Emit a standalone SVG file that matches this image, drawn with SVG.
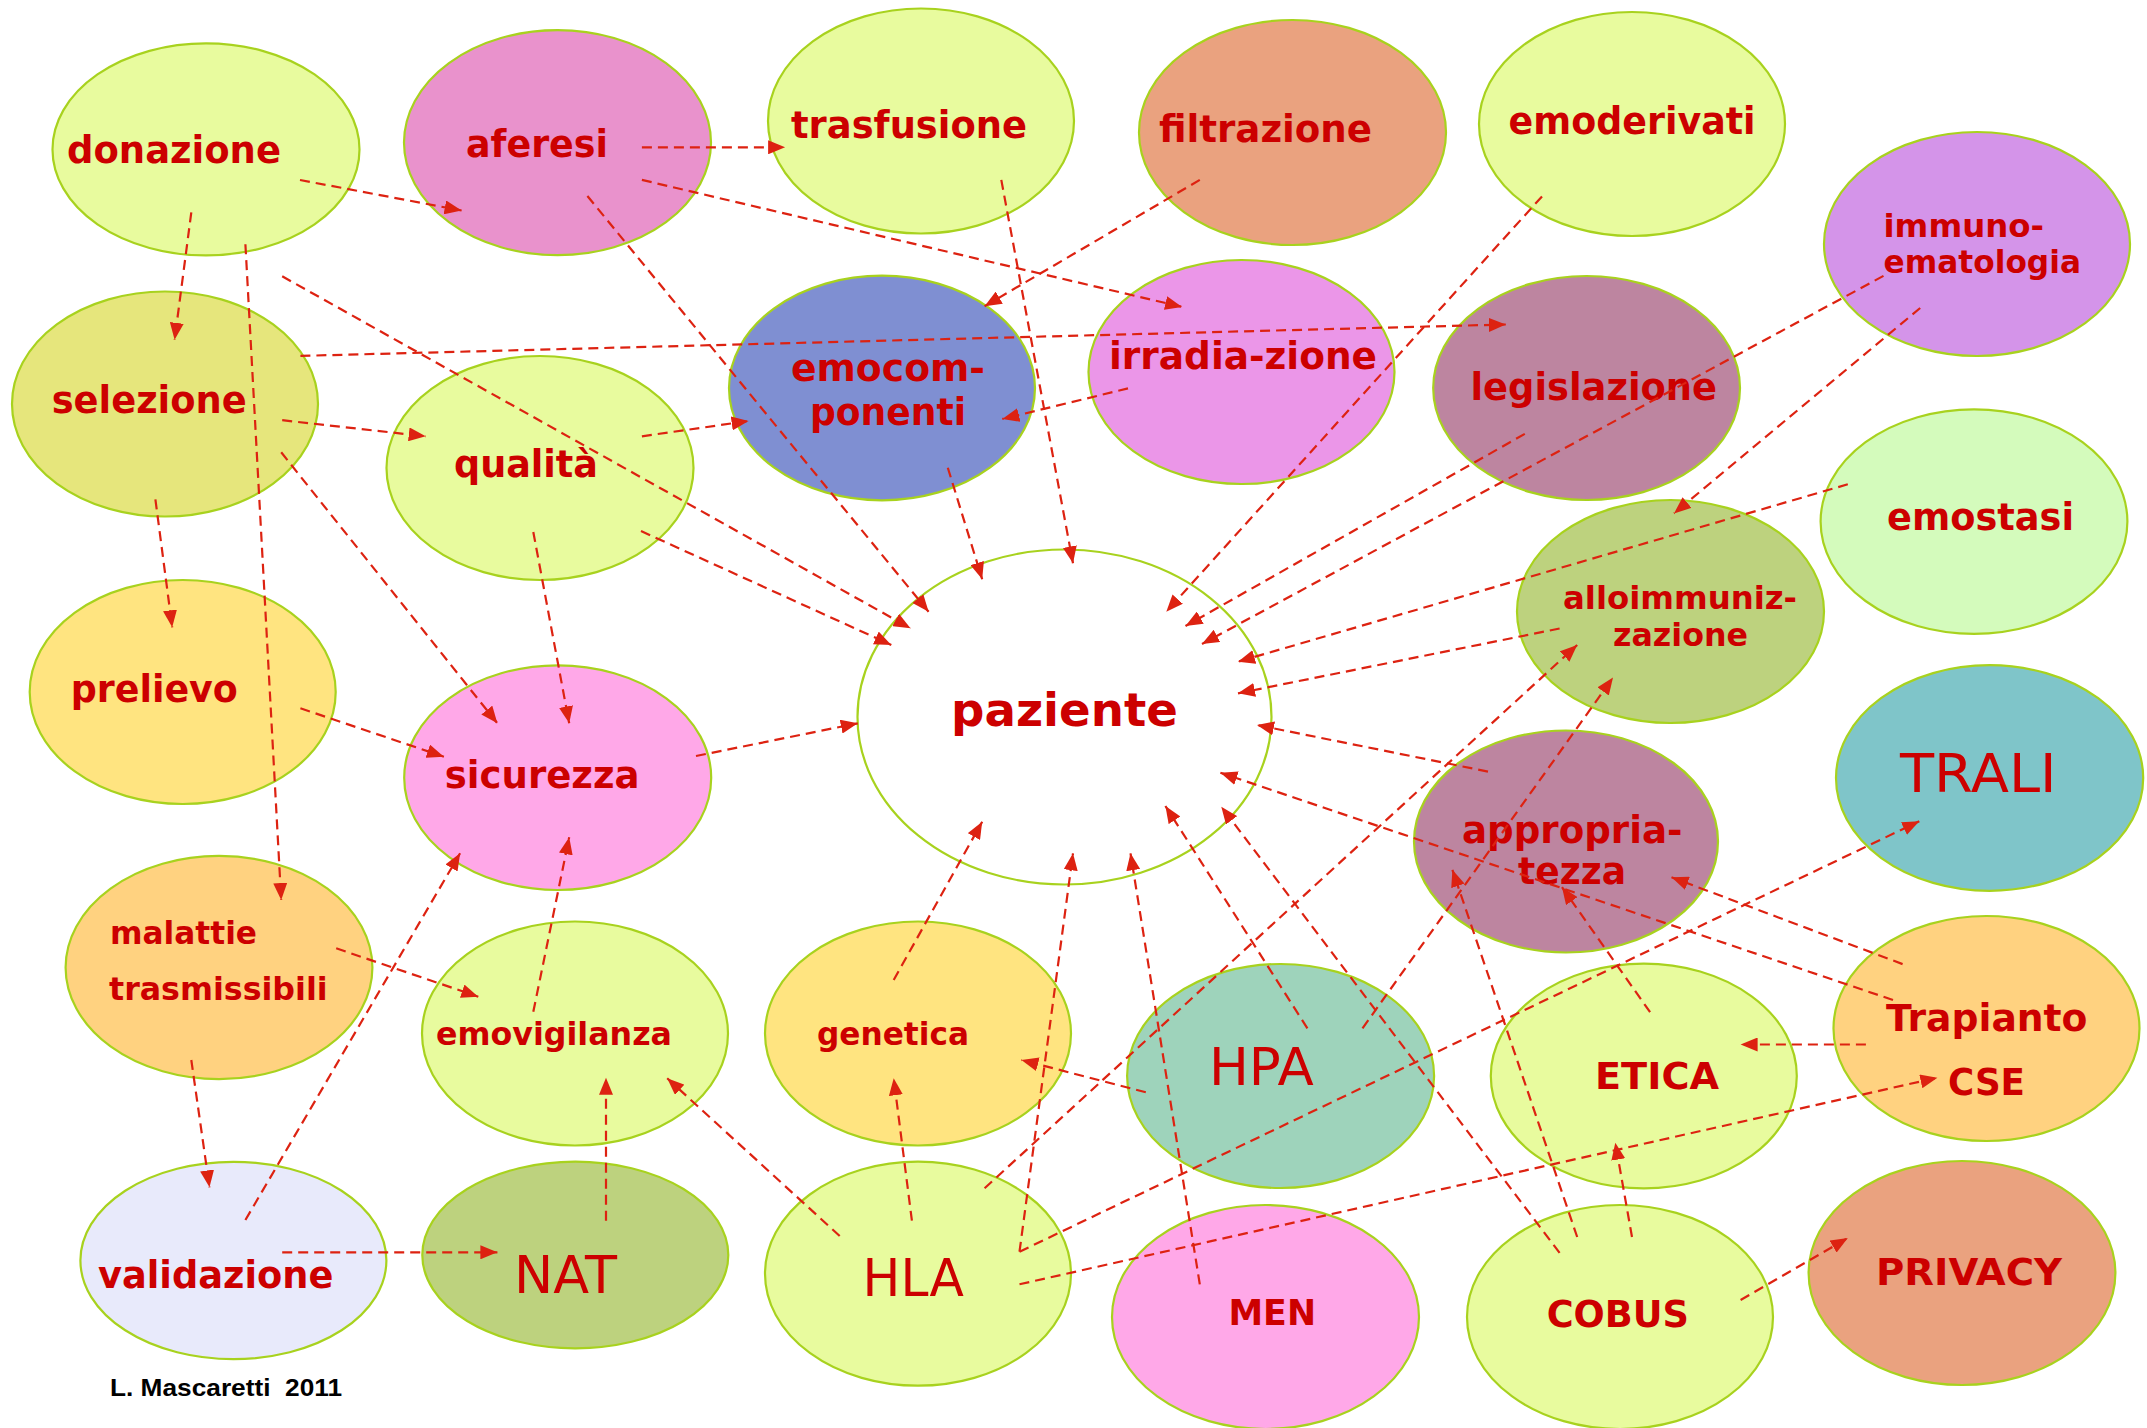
<svg xmlns="http://www.w3.org/2000/svg" width="2147" height="1428" viewBox="0 0 2147 1428">
<style>
.n{stroke:#A8D21E;stroke-width:2.2}
.t{font-family:"DejaVu Sans","Liberation Sans",sans-serif;font-weight:bold;fill:#CC0000}
.r{font-family:"DejaVu Sans","Liberation Sans",sans-serif;font-weight:normal;fill:#CC0000}
.c line{stroke:#DD2211;stroke-width:2.2;stroke-dasharray:10 6;fill:none;marker-end:url(#ah)}
.lg{fill:#E8FB9E}
</style>
<defs>
<marker id="ah" markerUnits="userSpaceOnUse" markerWidth="18" markerHeight="14" refX="17" refY="7" orient="auto">
<path d="M0,0 L17,7 L0,14 z" fill="#DD2211"/>
</marker>
</defs>
<rect width="2147" height="1428" fill="#FFFFFF"/>
<g id="donazione"><ellipse class="n lg" cx="206" cy="149.4" rx="153.5" ry="106"/><text class="t" x="67" y="162.6" font-size="37" textLength="214" lengthAdjust="spacingAndGlyphs">donazione</text></g>
<g id="aferesi"><ellipse class="n" fill="#E992CC" cx="557.5" cy="142.6" rx="153.5" ry="112.5"/><text class="t" x="466" y="157" font-size="37" textLength="142" lengthAdjust="spacingAndGlyphs">aferesi</text></g>
<g id="trasfusione"><ellipse class="n lg" cx="921" cy="121" rx="153" ry="112.5"/><text class="t" x="791" y="137.8" font-size="37" textLength="236" lengthAdjust="spacingAndGlyphs">trasfusione</text></g>
<g id="filtrazione"><ellipse class="n" fill="#EAA27F" cx="1292.5" cy="132.5" rx="153.5" ry="112.5"/><text class="t" x="1159" y="141.6" font-size="37" textLength="213" lengthAdjust="spacingAndGlyphs">filtrazione</text></g>
<g id="emoderivati"><ellipse class="n lg" cx="1632" cy="124" rx="153" ry="112"/><text class="t" x="1508.6" y="134" font-size="37" textLength="247" lengthAdjust="spacingAndGlyphs">emoderivati</text></g>
<g id="immunoematologia"><ellipse class="n" fill="#D494E9" cx="1977" cy="244" rx="153" ry="112"/><text class="t" x="1883.5" y="236.6" font-size="32" textLength="160.5" lengthAdjust="spacingAndGlyphs">immuno-</text><text class="t" x="1883.5" y="273" font-size="32" textLength="197.5" lengthAdjust="spacingAndGlyphs">ematologia</text></g>
<g id="selezione"><ellipse class="n" fill="#E6E67C" cx="165" cy="404" rx="153" ry="112.5"/><text class="t" x="51.7" y="413" font-size="37" textLength="195" lengthAdjust="spacingAndGlyphs">selezione</text></g>
<g id="qualita"><ellipse class="n lg" cx="540" cy="468" rx="153.5" ry="112"/><text class="t" x="454" y="476.5" font-size="37" textLength="144" lengthAdjust="spacingAndGlyphs">qualità</text></g>
<g id="emocomponenti"><ellipse class="n" fill="#7F8FD2" cx="882" cy="388" rx="153" ry="112.3"/><text class="t" x="791" y="381" font-size="37" textLength="194" lengthAdjust="spacingAndGlyphs">emocom-</text><text class="t" x="810" y="425" font-size="37" textLength="156" lengthAdjust="spacingAndGlyphs">ponenti</text></g>
<g id="irradiazione"><ellipse class="n" fill="#EB96E8" cx="1241.5" cy="372" rx="153" ry="112"/><text class="t" x="1109" y="369" font-size="37" textLength="268" lengthAdjust="spacingAndGlyphs">irradia-zione</text></g>
<g id="legislazione"><ellipse class="n" fill="#BD85A0" cx="1586.6" cy="388" rx="153.4" ry="112"/><text class="t" x="1470.5" y="399.5" font-size="37" textLength="246.5" lengthAdjust="spacingAndGlyphs">legislazione</text></g>
<g id="emostasi"><ellipse class="n" fill="#D4FBBC" cx="1974" cy="521.6" rx="153.4" ry="112.3"/><text class="t" x="1887" y="530" font-size="37" textLength="187" lengthAdjust="spacingAndGlyphs">emostasi</text></g>
<g id="alloimmunizzazione"><ellipse class="n" fill="#BDD27E" cx="1670.5" cy="611.5" rx="153.5" ry="111.5"/><text class="t" x="1563" y="609" font-size="32" textLength="234" lengthAdjust="spacingAndGlyphs">alloimmuniz-</text><text class="t" x="1613" y="646" font-size="32" textLength="135" lengthAdjust="spacingAndGlyphs">zazione</text></g>
<g id="prelievo"><ellipse class="n" fill="#FFE480" cx="182.7" cy="692" rx="153" ry="112"/><text class="t" x="70.8" y="701.7" font-size="37" textLength="167" lengthAdjust="spacingAndGlyphs">prelievo</text></g>
<g id="sicurezza"><ellipse class="n" fill="#FFA8E8" cx="557.7" cy="777.7" rx="153.5" ry="112.3"/><text class="t" x="444.8" y="788.3" font-size="37" textLength="194.7" lengthAdjust="spacingAndGlyphs">sicurezza</text></g>
<g id="paziente"><ellipse class="n" fill="#FFFFFF" cx="1064.5" cy="717" rx="207" ry="167.5"/><text class="t" x="951" y="725.7" font-size="47" textLength="227" lengthAdjust="spacingAndGlyphs">paziente</text></g>
<g id="appropriatezza"><ellipse class="n" fill="#BD85A0" cx="1566" cy="841.5" rx="152" ry="111"/><text class="t" x="1462" y="842.5" font-size="37" textLength="220.5" lengthAdjust="spacingAndGlyphs">appropria-</text><text class="t" x="1518" y="884" font-size="37" textLength="108" lengthAdjust="spacingAndGlyphs">tezza</text></g>
<g id="TRALI"><ellipse class="n" fill="#7FC5C9" cx="1989.6" cy="778" rx="153.6" ry="112.8"/><text class="r" x="1900" y="792.4" font-size="54" textLength="156.5" lengthAdjust="spacingAndGlyphs">TRALI</text></g>
<g id="malattie"><ellipse class="n" fill="#FFD280" cx="219" cy="967.5" rx="153.4" ry="111.6"/><text class="t" x="110" y="944.3" font-size="32" textLength="147" lengthAdjust="spacingAndGlyphs">malattie</text><text class="t" x="109" y="1000" font-size="32" textLength="218.6" lengthAdjust="spacingAndGlyphs">trasmissibili</text></g>
<g id="emovigilanza"><ellipse class="n lg" cx="575" cy="1033.5" rx="153" ry="112"/><text class="t" x="436" y="1045" font-size="32" textLength="236" lengthAdjust="spacingAndGlyphs">emovigilanza</text></g>
<g id="genetica"><ellipse class="n" fill="#FFE480" cx="918" cy="1033.5" rx="153" ry="112"/><text class="t" x="817" y="1045" font-size="32" textLength="152" lengthAdjust="spacingAndGlyphs">genetica</text></g>
<g id="HPA"><ellipse class="n" fill="#9ED3BB" cx="1280.6" cy="1076" rx="153.5" ry="112"/><text class="r" x="1209" y="1085" font-size="52" textLength="104.7" lengthAdjust="spacingAndGlyphs">HPA</text></g>
<g id="ETICA"><ellipse class="n lg" cx="1643.8" cy="1076" rx="153" ry="112.4"/><text class="t" x="1595" y="1089" font-size="37" textLength="124" lengthAdjust="spacingAndGlyphs">ETICA</text></g>
<g id="TrapiantoCSE"><ellipse class="n" fill="#FFD280" cx="1986.5" cy="1028.5" rx="153" ry="112.5"/><text class="t" x="1886" y="1031" font-size="37" textLength="201.5" lengthAdjust="spacingAndGlyphs">Trapianto</text><text class="t" x="1948" y="1095" font-size="37" textLength="77" lengthAdjust="spacingAndGlyphs">CSE</text></g>
<g id="validazione"><ellipse class="n" fill="#E8EAFB" cx="233.4" cy="1260.5" rx="153" ry="98.7"/><text class="t" x="98" y="1287.7" font-size="37" textLength="235.4" lengthAdjust="spacingAndGlyphs">validazione</text></g>
<g id="NAT"><ellipse class="n" fill="#BDD27E" cx="575.3" cy="1255" rx="153" ry="93.3"/><text class="r" x="514" y="1293" font-size="52" textLength="103" lengthAdjust="spacingAndGlyphs">NAT</text></g>
<g id="HLA"><ellipse class="n lg" cx="918" cy="1273.7" rx="153" ry="112"/><text class="r" x="862.6" y="1296" font-size="52" textLength="101.4" lengthAdjust="spacingAndGlyphs">HLA</text></g>
<g id="MEN"><ellipse class="n" fill="#FFA8E8" cx="1265.5" cy="1317" rx="153.5" ry="112"/><text class="t" x="1228.5" y="1325" font-size="36" textLength="87.5" lengthAdjust="spacingAndGlyphs">MEN</text></g>
<g id="COBUS"><ellipse class="n lg" cx="1620" cy="1317" rx="153" ry="112"/><text class="t" x="1546.7" y="1327" font-size="37" textLength="142.3" lengthAdjust="spacingAndGlyphs">COBUS</text></g>
<g id="PRIVACY"><ellipse class="n" fill="#EAA27F" cx="1962" cy="1273" rx="153.4" ry="112"/><text class="t" x="1876" y="1285" font-size="37" textLength="186" lengthAdjust="spacingAndGlyphs">PRIVACY</text></g>
<g id="credit"><text x="110" y="1395.7" font-family="'Liberation Sans',Arial,sans-serif" font-weight="bold" font-size="24" fill="#000000" xml:space="preserve" textLength="232" lengthAdjust="spacingAndGlyphs">L. Mascaretti  2011</text></g>
<g id="connectors" class="c">
<line x1="300" y1="180" x2="461.6" y2="210.5"/>
<line x1="191.3" y1="212.4" x2="174.6" y2="339.8"/>
<line x1="245.4" y1="244.2" x2="281.2" y2="900"/>
<line x1="282.2" y1="276.3" x2="910.5" y2="628.3"/>
<line x1="641.9" y1="147.3" x2="785.1" y2="147.3"/>
<line x1="641.9" y1="179.9" x2="1182.1" y2="306.9"/>
<line x1="587.4" y1="196" x2="928.6" y2="611.7"/>
<line x1="300.4" y1="355.9" x2="1505.8" y2="324.5"/>
<line x1="282.2" y1="420.2" x2="425.7" y2="436.3"/>
<line x1="155.4" y1="499.4" x2="172.2" y2="627.3"/>
<line x1="281.2" y1="452.3" x2="497.4" y2="723.3"/>
<line x1="641.9" y1="436.3" x2="748.6" y2="421"/>
<line x1="641" y1="531" x2="891.3" y2="645"/>
<line x1="533.3" y1="532" x2="569.2" y2="723.3"/>
<line x1="1001.3" y1="179.9" x2="1073" y2="563.3"/>
<line x1="1199.8" y1="179.9" x2="984.6" y2="306.2"/>
<line x1="1128" y1="388.4" x2="1002.3" y2="419"/>
<line x1="947.8" y1="467.7" x2="982.2" y2="579.3"/>
<line x1="1542" y1="196.4" x2="1166.3" y2="611.7"/>
<line x1="1524.8" y1="433.9" x2="1185.5" y2="626"/>
<line x1="1883.5" y1="275.9" x2="1202" y2="644"/>
<line x1="1920.2" y1="308" x2="1674" y2="513.4"/>
<line x1="1847.8" y1="484.3" x2="1238" y2="661.7"/>
<line x1="1559.6" y1="628.5" x2="1238" y2="693.3"/>
<line x1="1488" y1="771.6" x2="1257" y2="725"/>
<line x1="300.4" y1="708.3" x2="443.9" y2="756.7"/>
<line x1="696" y1="756" x2="857.8" y2="723.3"/>
<line x1="336.2" y1="948.3" x2="478.3" y2="996.7"/>
<line x1="191.3" y1="1060" x2="209.5" y2="1187.3"/>
<line x1="245.4" y1="1220" x2="460.1" y2="853.3"/>
<line x1="282.2" y1="1252.3" x2="497.4" y2="1252.3"/>
<line x1="606" y1="1220.7" x2="606" y2="1077.7"/>
<line x1="533.3" y1="1011.7" x2="569.2" y2="837.3"/>
<line x1="893.7" y1="980" x2="982.2" y2="821.7"/>
<line x1="839.7" y1="1236" x2="667.2" y2="1078.3"/>
<line x1="911.9" y1="1220.7" x2="893.7" y2="1078.3"/>
<line x1="1019.5" y1="1251.7" x2="1073" y2="853.3"/>
<line x1="984.6" y1="1188.3" x2="1577.2" y2="645"/>
<line x1="1019.5" y1="1251.7" x2="1919.3" y2="821.2"/>
<line x1="1019.5" y1="1284.3" x2="1937.4" y2="1077.7"/>
<line x1="1145.8" y1="1092.3" x2="1021.4" y2="1060"/>
<line x1="1307.4" y1="1028.3" x2="1165.4" y2="806"/>
<line x1="1362.5" y1="1028.3" x2="1613" y2="677.6"/>
<line x1="1199.8" y1="1284.3" x2="1130.5" y2="853.3"/>
<line x1="1650.1" y1="1012.2" x2="1562" y2="887.2"/>
<line x1="1865.9" y1="1044.5" x2="1740.6" y2="1044.5"/>
<line x1="1902.6" y1="964.1" x2="1671.5" y2="877.3"/>
<line x1="1893" y1="1000" x2="1220.4" y2="772.7"/>
<line x1="1632" y1="1237" x2="1615.3" y2="1142.7"/>
<line x1="1577.2" y1="1237" x2="1452.4" y2="869.8"/>
<line x1="1740.6" y1="1300" x2="1847.8" y2="1238"/>
<line x1="1559.6" y1="1252.9" x2="1221.3" y2="806.7"/>
</g>
</svg>
